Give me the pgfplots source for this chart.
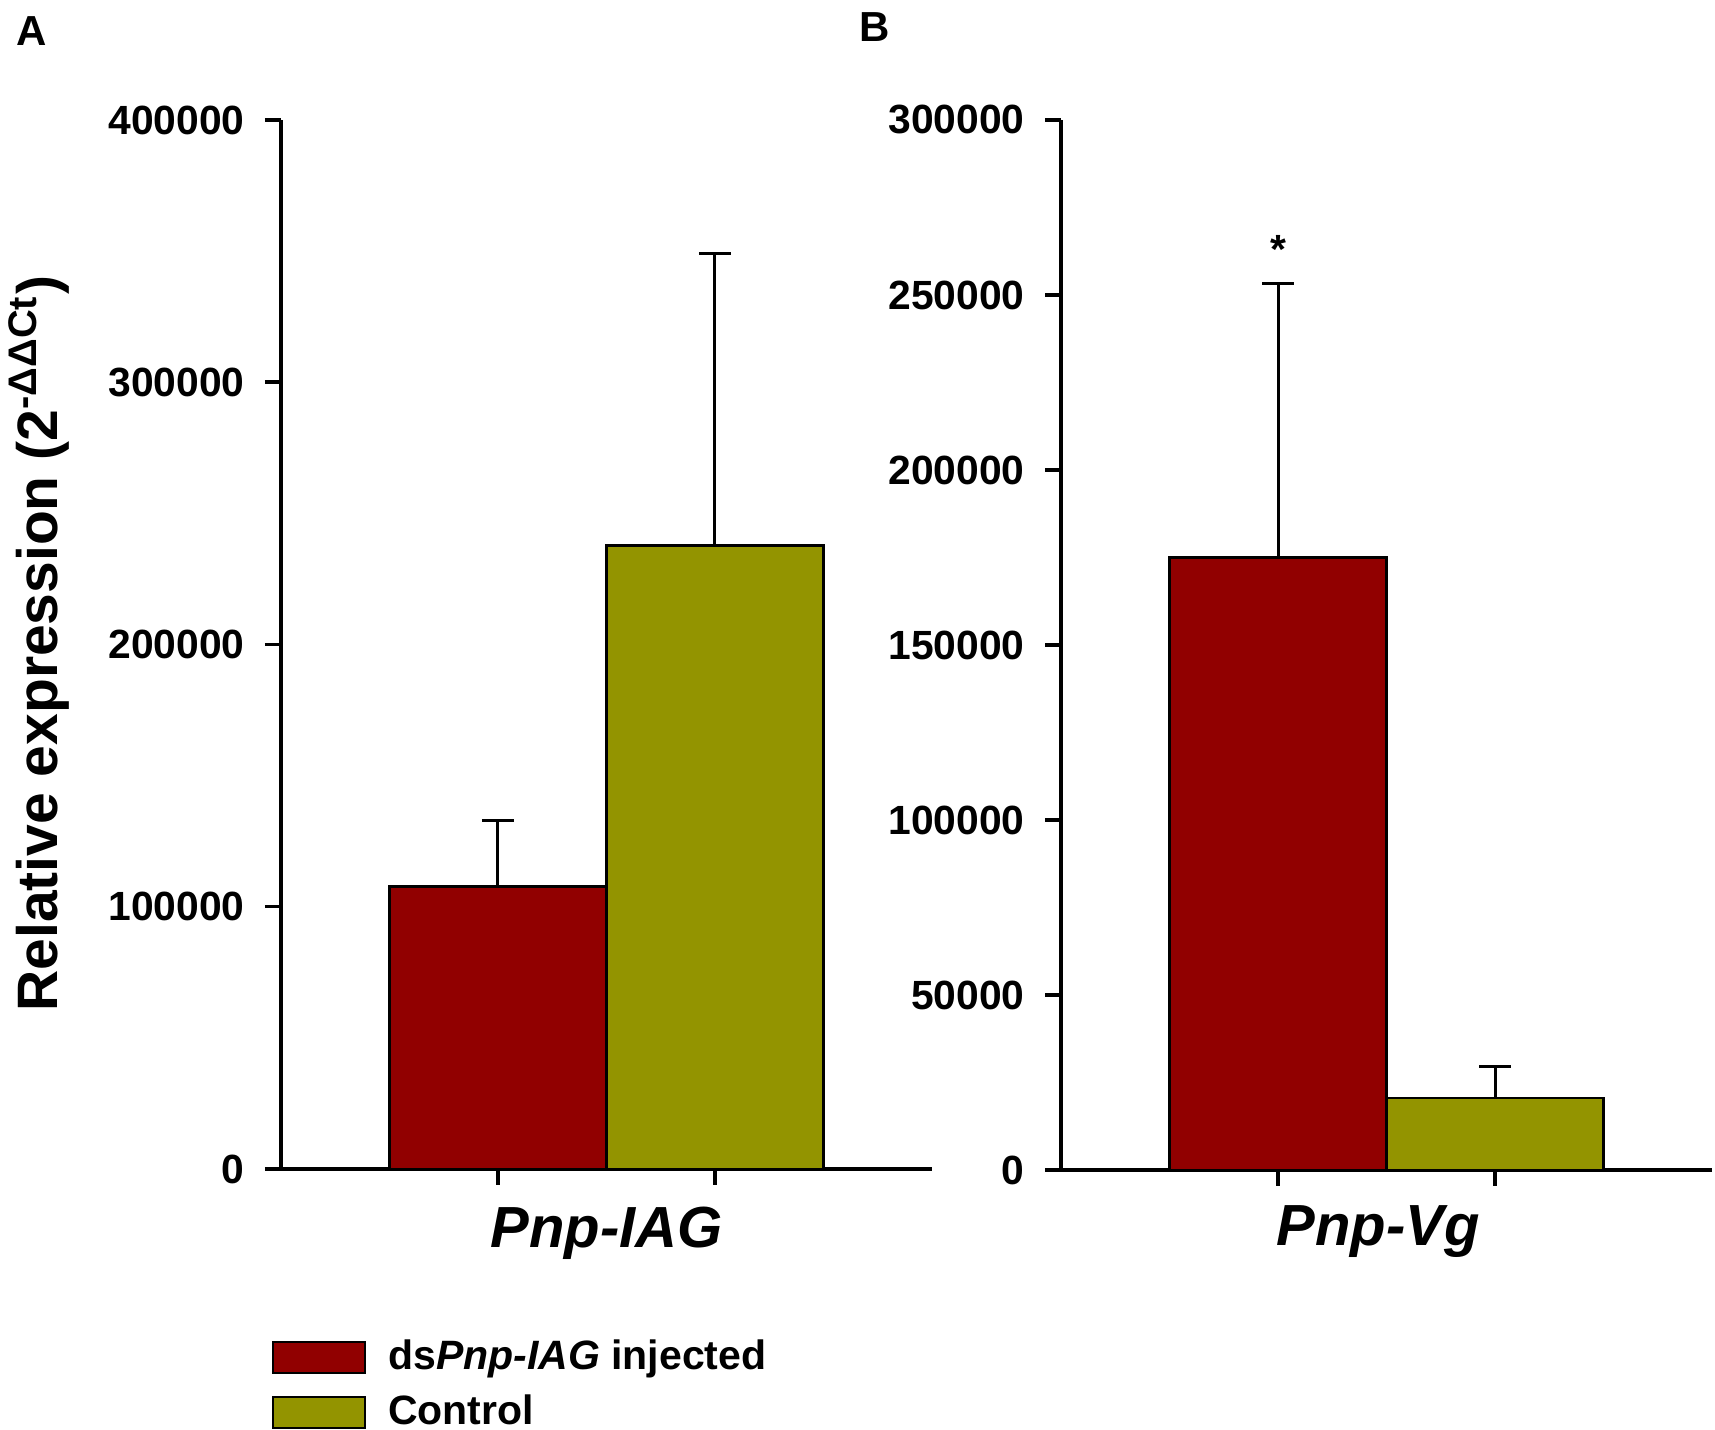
\documentclass[border=0pt]{standalone}
\usepackage{fontspec}
\setmainfont{Liberation Sans}
\usepackage{pgfplots}
\pgfplotsset{compat=1.18}
\definecolor{barred}{RGB}{145,0,0}
\definecolor{barolive}{RGB}{147,148,0}
\pgfplotsset{
  myaxis/.style={
    scale only axis,
    width=162.75pt,
    axis x line=bottom, axis y line=left,
    axis line style={-, line width=0.875pt, black},
    tick style={line width=0.875pt, black},
    major tick length=4pt,
    tick align=outside,
    xmin=-1, xmax=2, ymin=0,
    xtick={0,1}, xticklabels={,},
    scaled y ticks=false,
    /pgf/number format/assume math mode=true,
    yticklabel={\pgfmathprintnumber[fixed,1000 sep={}]{\tick}},
    tick label style={font=\bfseries\fontsize{10.2}{12}\selectfont},
    yticklabel style={xshift=-1.6pt},
    xlabel style={font=\bfseries\itshape\fontsize{14.5}{17}\selectfont, anchor=base},
    clip=false,
  },
  mybar/.style={ybar, bar width=1, bar shift=0pt, draw=black, line width=0.6pt,
    error bars/.cd, y dir=plus, y explicit,
    error bar style={line width=0.75pt, black},
    error mark options={rotate=90, mark size=4pt, line width=0.75pt, black}},
}
\begin{document}
\begin{tikzpicture}[x=1pt,y=1pt]
\path[use as bounding box] (0,0) rectangle (428.75,357.5);
\node[anchor=base west, font=\bfseries\fontsize{10.5}{12}\selectfont, inner sep=0pt] at (4,346) {A};
\node[anchor=base west, font=\bfseries\fontsize{10.5}{12}\selectfont, inner sep=0pt] at (214.75,347) {B};
\begin{axis}[myaxis, name=A,
  at={(70.25pt,65.25pt)}, anchor=south west,
  height=262.25pt, ymax=400000,
  ytick={0,100000,200000,300000,400000},
  xlabel={Pnp-IAG},
  xlabel style={at={(axis description cs:0.5,-0.0744)}},
  ylabel={Relative expression (2\textsuperscript{-ΔΔCt})},
  ylabel style={at={(axis description cs:-0.344,0.1493)}, anchor=base west, inner sep=0pt,
    font=\bfseries\fontsize{14.25}{17}\selectfont},
  legend style={at={(axis description cs:-0.0154,-0.1545)}, anchor=north west,
    draw=none, fill=none, inner sep=0pt, row sep=0.8pt,
    /tikz/every odd column/.style={column sep=3.5pt},
    font=\bfseries\fontsize{10.25}{12}\selectfont, cells={anchor=west}},
  legend image code/.code={\draw[#1, line width=0.6pt, draw=black] (0pt,-3.9pt) rectangle (23pt,3.9pt);},
]
\addplot[fill=barred, mybar] coordinates {(0,107700) +- (0,25000)};
\addlegendentry{ds\textit{Pnp-IAG} injected}
\addplot[fill=barolive, mybar] coordinates {(1,237800) +- (0,111300)};
\addlegendentry{Control}
\end{axis}
\begin{axis}[myaxis, name=B,
  at={(265.25pt,65pt)}, anchor=south west,
  height=262.5pt, ymax=300000,
  ytick={0,50000,100000,150000,200000,250000,300000},
  xlabel={Pnp-Vg},
  xlabel style={at={(axis description cs:0.487,-0.0724)}},
]
\addplot[fill=barred, mybar] coordinates {(0,175000) +- (0,78200)};
\addplot[fill=barolive, mybar] coordinates {(1,20500) +- (0,9200)};
\node[anchor=base, font=\bfseries\fontsize{10.2}{12}\selectfont, inner sep=0pt] at (axis cs:0,259000) {*};
\end{axis}
\end{tikzpicture}
\end{document}
